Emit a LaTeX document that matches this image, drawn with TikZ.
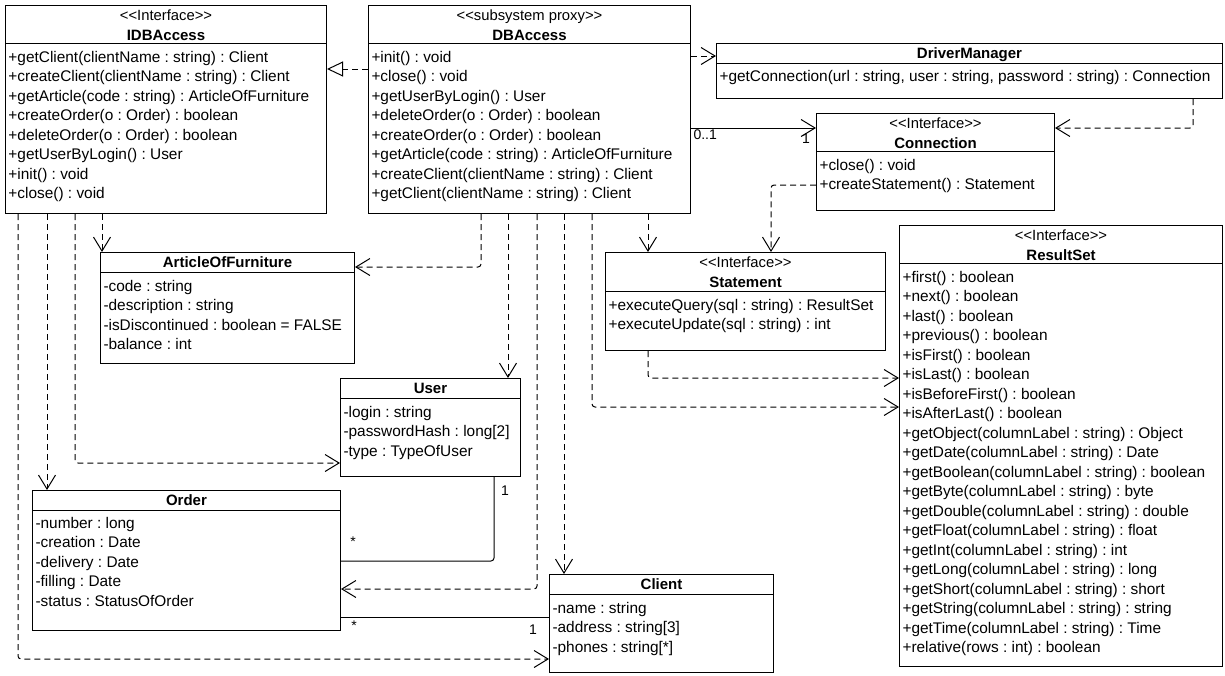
\documentclass[tikz,border=0pt]{standalone}
\usepackage{fontspec}
\setmainfont{Liberation Sans}
\usetikzlibrary{arrows.meta,calc}
\newcommand\stereotype[1]{<\kern0pt<#1>\kern0pt>}
\frenchspacing

\begin{document}
\begin{tikzpicture}[x=1pt,y=-1pt,line width=1pt,
  box/.style={draw,anchor=north west,inner sep=0pt},
  txt/.style={anchor=base west,inner sep=0pt,font=\fontsize{15.4}{18}\selectfont},
  stereo/.style={anchor=base,inner sep=0pt,font=\fontsize{14.8}{16}\selectfont},
  cname/.style={anchor=base,inner sep=0pt,font=\bfseries\fontsize{15}{18}\selectfont},
  mult/.style={inner sep=0pt,font=\fontsize{14}{16}\selectfont},
  dep/.style={dash pattern=on 6pt off 4pt,rounded corners=3pt,-{Straight Barb[length=14pt,width=17pt]}},
  assoc/.style={-{Straight Barb[length=14pt,width=17pt]}},
  real/.style={dash pattern=on 6pt off 4pt,-{Triangle[open,length=16pt,width=15pt]}}]
\useasboundingbox (0,0) rectangle (1225,675);

% IDBAccess
\node[box,minimum width=321pt,minimum height=208pt] (idb) at (5,5) {};
\draw ($(idb.north west)+(0,38)$) -- ($(idb.north east)+(0,38)$);
\node[stereo] (idb-st) at ($(idb.north)+(0,15)$) {\stereotype{Interface}};
\node[cname] (idb-nm) at ($(idb.north)+(0,35)$) {IDBAccess};
\foreach \m [count=\i from 0] in {+getClient(clientName : string) : Client,
  +createClient(clientName : string) : Client,+getArticle(code : string) : ArticleOfFurniture,
  +createOrder(o : Order) : boolean,+deleteOrder(o : Order) : boolean,
  +getUserByLogin() : User,+init() : void,+close() : void}
  \node[txt] (idb-m\i) at ($(idb.north west)+(3,57+19.5*\i)$) {\m};

% DBAccess
\node[box,minimum width=322pt,minimum height=208pt] (dba) at (368,5) {};
\draw ($(dba.north west)+(0,38)$) -- ($(dba.north east)+(0,38)$);
\node[stereo] (dba-st) at ($(dba.north)+(0,15)$) {\stereotype{subsystem proxy}};
\node[cname] (dba-nm) at ($(dba.north)+(0,35)$) {DBAccess};
\foreach \m [count=\i from 0] in {+init() : void,+close() : void,+getUserByLogin() : User,
  +deleteOrder(o : Order) : boolean,+createOrder(o : Order) : boolean,
  +getArticle(code : string) : ArticleOfFurniture,+createClient(clientName : string) : Client,
  +getClient(clientName : string) : Client}
  \node[txt] (dba-m\i) at ($(dba.north west)+(3,57+19.5*\i)$) {\m};

% DriverManager
\node[box,minimum width=506pt,minimum height=55pt] (drv) at (716,43) {};
\draw ($(drv.north west)+(0,20)$) -- ($(drv.north east)+(0,20)$);
\node[cname] (drv-nm) at ($(drv.north)+(0,15)$) {DriverManager};
\node[txt] (drv-m0) at ($(drv.north west)+(3,38)$) {+getConnection(url : string, user : string, password : string) : Connection};

% Connection
\node[box,minimum width=238pt,minimum height=97pt] (con) at (816,113) {};
\draw ($(con.north west)+(0,38)$) -- ($(con.north east)+(0,38)$);
\node[stereo] (con-st) at ($(con.north)+(0,15)$) {\stereotype{Interface}};
\node[cname] (con-nm) at ($(con.north)+(0,35)$) {Connection};
\foreach \m [count=\i from 0] in {+close() : void,+createStatement() : Statement}
  \node[txt] (con-m\i) at ($(con.north west)+(3,57+19.5*\i)$) {\m};

% ArticleOfFurniture
\node[box,minimum width=254pt,minimum height=111pt] (aof) at (100,252) {};
\draw ($(aof.north west)+(0,20)$) -- ($(aof.north east)+(0,20)$);
\node[cname] (aof-nm) at ($(aof.north)+(0,15)$) {ArticleOfFurniture};
\foreach \m [count=\i from 0] in {-code : string,-description : string,
  -isDiscontinued : boolean = FALSE,-balance : int}
  \node[txt] (aof-m\i) at ($(aof.north west)+(3,39+19.5*\i)$) {\m};

% Statement
\node[box,minimum width=280pt,minimum height=98pt] (st) at (605,252) {};
\draw ($(st.north west)+(0,39)$) -- ($(st.north east)+(0,39)$);
\node[stereo] (st-st) at ($(st.north)+(0,15)$) {\stereotype{Interface}};
\node[cname] (st-nm) at ($(st.north)+(0,35)$) {Statement};
\foreach \m [count=\i from 0] in {+executeQuery(sql : string) : ResultSet,+executeUpdate(sql : string) : int}
  \node[txt] (st-m\i) at ($(st.north west)+(3,58+19.5*\i)$) {\m};

% ResultSet
\node[box,minimum width=323pt,minimum height=441pt] (rs) at (899,225) {};
\draw ($(rs.north west)+(0,38)$) -- ($(rs.north east)+(0,38)$);
\node[stereo] (rs-st) at ($(rs.north)+(0,15)$) {\stereotype{Interface}};
\node[cname] (rs-nm) at ($(rs.north)+(0,35)$) {ResultSet};
\foreach \m [count=\i from 0] in {+first() : boolean,+next() : boolean,+last() : boolean,
  +previous() : boolean,+isFirst() : boolean,+isLast() : boolean,+isBeforeFirst() : boolean,
  +isAfterLast() : boolean,+getObject(columnLabel : string) : Object,
  +getDate(columnLabel : string) : Date,+getBoolean(columnLabel : string) : boolean,
  +getByte(columnLabel : string) : byte,+getDouble(columnLabel : string) : double,
  +getFloat(columnLabel : string) : float,+getInt(columnLabel : string) : int,
  +getLong(columnLabel : string) : long,+getShort(columnLabel : string) : short,
  +getString(columnLabel : string) : string,+getTime(columnLabel : string) : Time,
  +relative(rows : int) : boolean}
  \node[txt] (rs-m\i) at ($(rs.north west)+(3,57+19.5*\i)$) {\m};

% User
\node[box,minimum width=180pt,minimum height=98pt] (usr) at (340,378) {};
\draw ($(usr.north west)+(0,20)$) -- ($(usr.north east)+(0,20)$);
\node[cname] (usr-nm) at ($(usr.north)+(0,15)$) {User};
\foreach \m [count=\i from 0] in {-login : string,-passwordHash : long[2],-type : TypeOfUser}
  \node[txt] (usr-m\i) at ($(usr.north west)+(3,39+19.5*\i)$) {\m};

% Order
\node[box,minimum width=308pt,minimum height=140pt] (ord) at (32,490) {};
\draw ($(ord.north west)+(0,20)$) -- ($(ord.north east)+(0,20)$);
\node[cname] (ord-nm) at ($(ord.north)+(0,15)$) {Order};
\foreach \m [count=\i from 0] in {-number : long,-creation : Date,-delivery : Date,
  -filling : Date,-status : StatusOfOrder}
  \node[txt] (ord-m\i) at ($(ord.north west)+(3,38+19.5*\i)$) {\m};

% Client
\node[box,minimum width=224pt,minimum height=98pt] (cli) at (549,574) {};
\draw ($(cli.north west)+(0,20)$) -- ($(cli.north east)+(0,20)$);
\node[cname] (cli-nm) at ($(cli.north)+(0,15)$) {Client};
\foreach \m [count=\i from 0] in {-name : string,-address : string[3],-phones : string[*]}
  \node[txt] (cli-m\i) at ($(cli.north west)+(3,39+19.5*\i)$) {\m};

% taps under the two access classes
\foreach \n/\dx in {aof/113,usr/140,ord/169,cli/196,rs/224,st/280}
  \coordinate (dba-\n) at ($(dba.south west)+(\dx,0)$);
\foreach \n/\dx in {cli/13,ord/42,usr/70,aof/97}
  \coordinate (idb-\n) at ($(idb.south west)+(\dx,0)$);

% dependencies
\draw[dep] (dba-aof) |- ($(aof.north east)+(0,15)$);
\draw[dep] (dba-usr) -- (dba-usr |- usr.north);
\draw[dep] (dba-ord) |- ($(ord.north east)+(0,99)$);
\draw[dep] (dba-cli) -- (dba-cli |- cli.north);
\draw[dep] (dba-rs) |- ($(rs.north west)+(0,182)$);
\draw[dep] (dba-st) -- (dba-st |- st.north);
\draw[dep] (idb-aof) -- (idb-aof |- aof.north);
\draw[dep] (idb-usr) |- ($(usr.north west)+(0,85)$);
\draw[dep] (idb-ord) -- (idb-ord |- ord.north);
\draw[dep] (idb-cli) |- ($(cli.north west)+(0,85)$);
\draw[dep] ($(dba.north east)+(0,51)$) -- ($(drv.north west)+(0,13)$);
\draw[dep] ($(drv.south east)+(-30,0)$) |- ($(con.north east)+(0,15)$);
\draw[dep] ($(con.north west)+(0,72)$) -| ($(st.north west)+(166,0)$);
\draw[dep] ($(st.south west)+(43,0)$) |- ($(rs.north west)+(0,153)$);
\draw[real] ($(dba.north west)+(0,64)$) -- ($(idb.north east)+(0,64)$);

% associations
\draw[assoc] ($(dba.north east)+(0,123)$) -- ($(con.north west)+(0,15)$);
\node[mult,anchor=west] (m-dba) at ($(dba.north east)+(2,130)$) {0..1};
\node[mult] (m-con) at ($(con.north west)+(-10,26)$) {1};
\draw[rounded corners=3pt] ($(usr.south west)+(154,0)$) |- ($(ord.north east)+(0,71)$);
\node[mult] (m-usr) at ($(usr.south west)+(165,14)$) {1};
\node[mult] (m-ord1) at ($(ord.north east)+(12,52)$) {*};
\draw ($(ord.north east)+(0,127)$) -- ($(cli.north west)+(0,43)$);
\node[mult] (m-ord2) at ($(ord.north east)+(13,136)$) {*};
\node[mult] (m-cli) at ($(cli.north west)+(-16,56)$) {1};
\end{tikzpicture}
\end{document}
